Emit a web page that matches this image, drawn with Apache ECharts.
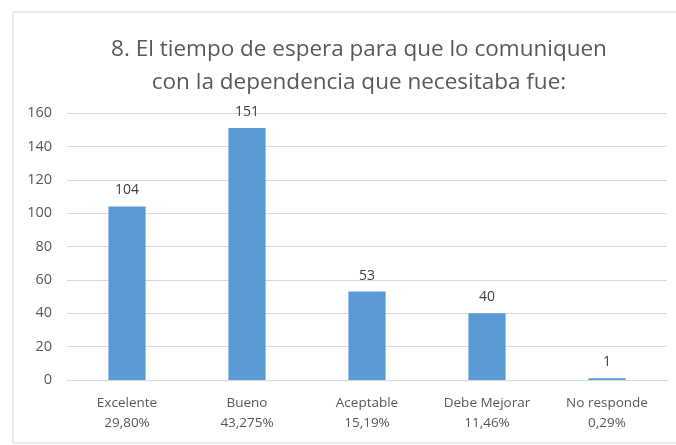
<html>
<head>
<meta charset="utf-8">
<script type="text/javascript" src="https://cdn.jsdelivr.net/npm/echarts@6/dist/echarts.min.js"></script>
<style type="text/css">
	body { margin: 0; background: #fff; }
</style>
</head>
<body>
	<div id="chart" style="width: 676px; height: 445px;"></div>
	<script type="text/javascript">
// data
var categories = ['Excelente', 'Bueno', 'Aceptable', 'Debe Mejorar', 'No responde'];
var percents = ['29,80%', '43,275%', '15,19%', '11,46%', '0,29%'];
var counts = [104, 151, 53, 40, 1];
var titleLines = ['8. El tiempo de espera para que lo comuniquen', 'con la dependencia que necesitaba fue:'];

var font = 'Open Sans';

var labels = [];
for (let i = 0; i < categories.length; i++) {
	labels.push(categories[i] + '\n' + percents[i]);
}

var option = {
	animation: false,
	graphic: [{
		type: 'rect',
		shape: { x: 13, y: 12, width: 680, height: 431 },
		style: { fill: 'none', stroke: '#d9d9d9', lineWidth: 1 }
	}],
	title: {
		text: titleLines.join('\n'),
		left: 354,
		textAlign: 'center',
		top: 28,
		textStyle: {
			fontFamily: font,
			fontSize: 22.5,
			fontWeight: 'normal',
			color: '#595959',
			lineHeight: 33
		}
	},
	grid: { left: 67, right: 9, top: 113, bottom: 65 },
	xAxis: {
		type: 'category',
		data: labels,
		axisLine: { lineStyle: { color: '#d9d9d9' } },
		axisTick: { show: false },
		axisLabel: {
			fontFamily: font,
			fontSize: 13.5,
			color: '#595959',
			lineHeight: 20,
			margin: 13,
			interval: 0
		}
	},
	yAxis: {
		type: 'value',
		min: 0,
		max: 160,
		interval: 20,
		axisLine: { show: false },
		axisTick: { show: false },
		splitLine: { lineStyle: { color: '#d9d9d9' } },
		axisLabel: {
			fontFamily: font,
			fontSize: 14.5,
			color: '#595959',
			margin: 15
		}
	},
	series: [{
		type: 'bar',
		data: counts,
		barWidth: '31%',
		itemStyle: { color: '#5b9bd5' },
		label: {
			show: true,
			position: 'top',
			distance: 9,
			fontFamily: font,
			fontSize: 14,
			color: '#404040'
		}
	}]
};

var myChart = echarts.init(document.getElementById('chart'));
myChart.setOption(option);
</script>
</body>
</html>
